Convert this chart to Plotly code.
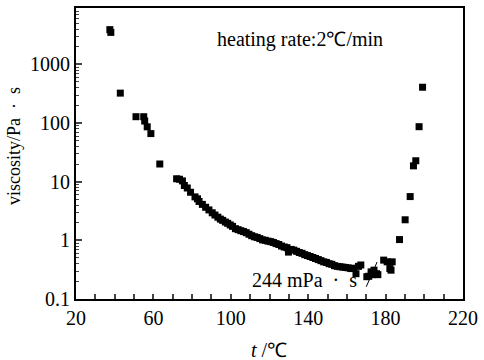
import plotly.graph_objects as go

# temperature (°C) and viscosity (Pa·s)
temperature = [37.5, 38.0, 42.9, 51.0, 55.0, 55.5, 56.8, 58.7, 63.3, 72.0, 73.5, 75.0, 76.0, 77.5,
               79.2, 81.5, 82.8, 83.6, 85.3, 87.0, 88.7, 90.4, 91.8, 93.3, 94.6, 95.8, 97.2, 98.4,
               99.7, 100.9, 102.4, 103.8, 105.2, 106.6, 108.0, 109.4, 110.8, 112.2, 113.6, 115.0,
               116.4, 117.8, 119.2, 120.6, 122.0, 123.4, 124.8, 126.2, 127.6, 129.0, 129.8, 131.2,
               132.6, 134.0, 135.4, 136.8, 138.2, 139.6, 141.0, 142.4, 143.8, 145.2, 146.6, 148.0,
               149.4, 150.8, 152.2, 153.6, 155.0, 156.4, 157.8, 159.2, 160.6, 162.0, 163.5, 164.7,
               166.0, 167.2, 170.3, 171.3, 172.5, 173.2, 174.0, 175.3, 176.0, 179.0, 180.8, 182.2,
               182.8, 183.4, 187.2, 190.1, 192.7, 194.4, 195.6, 197.3, 199.1]
viscosity = [3900, 3500, 323, 128, 128, 108, 86, 66, 20, 11.2, 11.0, 10.3, 8.6, 7.8,
             6.6, 5.5, 5.1, 4.6, 4.1, 3.66, 3.3, 2.95, 2.7, 2.48, 2.3, 2.19, 2.05, 1.95,
             1.83, 1.73, 1.58, 1.52, 1.46, 1.41, 1.35, 1.27, 1.20, 1.15, 1.12, 1.07,
             1.02, 1.00, 0.97, 0.95, 0.92, 0.88, 0.85, 0.80, 0.77, 0.75, 0.63, 0.70,
             0.68, 0.65, 0.62, 0.60, 0.57, 0.55, 0.53, 0.51, 0.49, 0.47, 0.45, 0.43,
             0.42, 0.40, 0.39, 0.37, 0.36, 0.355, 0.35, 0.345, 0.34, 0.33, 0.335, 0.27,
             0.36, 0.38, 0.24, 0.244, 0.29, 0.26, 0.31, 0.27, 0.26, 0.46, 0.43, 0.33,
             0.31, 0.43, 1.03, 2.24, 5.57, 18.6, 22.7, 86.5, 407]

x_ticks = [20, 60, 100, 140, 180, 220]
y_ticks = [0.1, 1, 10, 100, 1000]
y_tick_labels = ["0.1", "1", "10", "100", "1000"]

FONT = "Liberation Serif"

fig = go.Figure()
fig.add_trace(go.Scatter(
    x=temperature, y=viscosity, mode="markers",
    marker=dict(symbol="square", size=7, color="black", line=dict(width=0)),
    showlegend=False,
))

fig.update_layout(
    width=484, height=360,
    margin=dict(l=76, r=15, t=6, b=61),
    paper_bgcolor="white", plot_bgcolor="white",
    font=dict(family=FONT, size=20, color="black"),
    xaxis=dict(
        range=[20, 220], tickvals=x_ticks, ticks="inside", ticklen=5, tickwidth=1.5,
        showline=True, linewidth=2, linecolor="black", mirror=True, showgrid=False,
        zeroline=False, tickfont=dict(size=20, family=FONT),
        minor=dict(dtick=10, tick0=20, ticks="inside", ticklen=5, tickwidth=1.5, showgrid=False),
    ),
    yaxis=dict(
        type="log", range=[-1, 3.96], tickvals=y_ticks, ticktext=y_tick_labels,
        ticks="inside", ticklen=6, tickwidth=1.5,
        showline=True, linewidth=2, linecolor="black", mirror=True, showgrid=False,
        zeroline=False, tickfont=dict(size=20, family=FONT),
        minor=dict(dtick="D1", ticks="inside", ticklen=3, tickwidth=1, showgrid=False),
    ),
    annotations=[
        dict(text="heating rate:2℃/min", xref="paper", yref="paper", x=0.578, y=0.891,
             xanchor="center", yanchor="middle",
             showarrow=False, font=dict(size=20, family=FONT)),
        dict(text="244 mPa\u2002·\u2002s", xref="paper", yref="paper", x=0.590, y=0.065,
             xanchor="center", yanchor="middle",
             showarrow=False, font=dict(size=20, family=FONT)),
        dict(text="viscosity/Pa\u2002·\u2002s", xref="paper", yref="paper", x=-0.160, y=0.526,
             xanchor="center", yanchor="middle",
             textangle=-90, showarrow=False, font=dict(size=18, family=FONT)),
        dict(text="<i>t</i> /℃", xref="paper", yref="paper", x=0.499, y=-0.174,
             xanchor="center", yanchor="middle",
             showarrow=False, font=dict(size=20, family=FONT)),
    ],
    shapes=[
        dict(type="line", xref="paper", yref="paper", x0=0.75, y0=0.042, x1=0.778, y1=0.127,
             line=dict(color="black", width=1)),
    ],
)

fig.write_html("out.html")
